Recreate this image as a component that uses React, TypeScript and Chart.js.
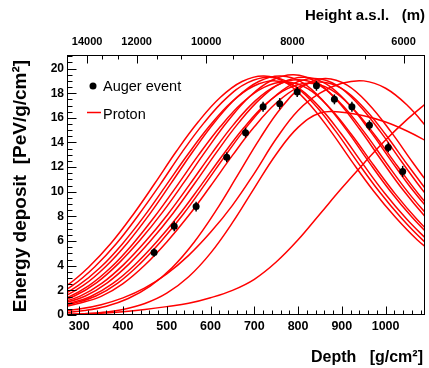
import React, { useEffect, useRef } from 'react';
import { Chart, registerables } from 'chart.js';

Chart.register(...registerables);

const FONT = "'Liberation Sans', Arial, Helvetica, sans-serif";

// Axis ticks
const depthTicks = [300, 400, 500, 600, 700, 800, 900, 1000];
const energyTicks = [0, 2, 4, 6, 8, 10, 12, 14, 16, 18, 20];
const heightLabels = ['14000', '12000', '10000', '8000', '6000'];
const heightMajorDepths = [318, 431, 590, 787, 1041];
const heightMinorDepths = [352, 389, 477, 533, 651, 719, 867, 954];

// Auger event
const augerDepth = [471, 517, 567, 637, 680, 720, 758, 798, 842, 883, 923, 963, 1006, 1039];
const augerEnergy = [5.07, 7.2, 8.8, 12.8, 14.8, 16.9, 17.15, 18.1, 18.6, 17.5, 16.9, 15.4, 13.6, 11.65];
const augerError = [0.35, 0.4, 0.4, 0.4, 0.4, 0.4, 0.45, 0.4, 0.4, 0.4, 0.4, 0.4, 0.4, 0.45];

// Proton showers: [depth, energy deposit]
const proton01 = [[222,1.4],[272,2.4],[322,3.9],[372,5.8],[422,8.1],[472,10.65],[522,13.29],[572,15.68],[622,17.65],[672,18.95],[722,19.4],[772,18.86],[822,17.27],[872,15.04],[922,12.51],[972,10.09],[1022,7.95],[1072,6.11],[1122,4.66]];
const proton02 = [[235,1.4],[285,2.4],[335,3.9],[385,5.8],[435,8.1],[485,10.6],[535,13.22],[585,15.59],[635,17.56],[685,18.86],[735,19.3],[785,18.76],[835,17.18],[885,14.96],[935,12.45],[985,10.04],[1035,7.91],[1085,6.08],[1135,4.63]];
const proton03 = [[198,0.85],[248,1.4],[298,2.4],[348,3.85],[398,5.75],[448,8.0],[498,10.5],[548,13.02],[598,15.35],[648,17.29],[698,18.56],[748,19.0],[798,18.47],[848,16.91],[898,14.73],[948,12.26],[998,9.88],[1048,7.79],[1098,5.99]];
const proton04 = [[210,0.87],[260,1.42],[310,2.42],[360,3.92],[410,5.85],[460,8.15],[510,10.7],[560,13.29],[610,15.68],[660,17.65],[710,18.95],[760,19.4],[810,18.86],[860,17.27],[910,15.04],[960,12.51],[1010,10.09],[1060,7.95],[1110,6.11]];
const proton05 = [[222,0.86],[272,1.4],[322,2.38],[372,3.85],[422,5.75],[472,7.97],[522,10.42],[572,12.95],[622,15.27],[672,17.2],[722,18.47],[772,18.9],[822,18.37],[872,16.82],[922,14.65],[972,12.19],[1022,9.83],[1072,7.75],[1122,5.95]];
const proton06 = [[190,0.59],[240,0.98],[290,1.56],[340,2.63],[390,4.19],[440,6.12],[490,8.33],[540,10.8],[590,13.36],[640,15.76],[690,17.75],[740,19.05],[790,19.5],[840,18.95],[890,17.36],[940,15.11],[990,12.58],[1040,10.14],[1090,8.0],[1140,6.14]];
const proton07 = [[202,0.57],[252,0.96],[302,1.53],[352,2.58],[402,4.11],[452,6.0],[502,8.16],[552,10.58],[602,13.08],[652,15.43],[702,17.38],[752,18.66],[802,19.1],[852,18.57],[902,17.0],[952,14.8],[1002,12.32],[1052,9.93],[1102,7.83]];
const proton08 = [[214,0.58],[264,0.97],[314,1.54],[364,2.61],[414,4.15],[464,6.06],[514,8.24],[564,10.69],[614,13.22],[664,15.59],[714,17.56],[764,18.86],[814,19.3],[864,18.76],[914,17.18],[964,14.96],[1014,12.45],[1064,10.04],[1114,7.91]];
const proton09 = [[226,0.56],[276,0.94],[326,1.5],[376,2.54],[426,4.04],[476,5.9],[526,8.03],[576,10.42],[626,12.88],[676,15.19],[726,17.11],[776,18.37],[826,18.8],[876,18.27],[926,16.73],[976,14.57],[1026,12.13],[1076,9.78],[1126,7.71]];
const proton10 = [[238,0.58],[288,0.96],[338,1.54],[388,2.59],[438,4.13],[488,6.03],[538,8.2],[588,10.64],[638,13.15],[688,15.51],[738,17.47],[788,18.76],[838,19.2],[888,18.66],[938,17.09],[988,14.88],[1038,12.38],[1088,9.98],[1138,7.87]];
const proton11 = [[200,0.34],[250,0.57],[300,0.95],[350,1.51],[400,2.55],[450,4.06],[500,5.93],[550,8.07],[600,10.47],[650,12.95],[700,15.27],[750,17.2],[800,18.47],[850,18.9],[900,18.37],[950,16.82],[1000,14.65],[1050,12.19],[1100,9.83]];
const proton12 = [[212,0.07],[262,0.17],[312,0.36],[362,0.71],[412,1.34],[462,2.34],[512,3.84],[562,5.89],[612,8.45],[662,11.35],[712,14.28],[762,16.84],[812,18.59],[862,19.2],[912,18.66],[962,17.09],[1012,14.88],[1062,12.38],[1112,9.98]];
const proton13 = [[250,0.27],[300,0.48],[350,0.84],[400,1.39],[450,2.2],[500,3.34],[550,4.84],[600,6.71],[650,8.9],[700,11.5],[750,14.3],[800,16.6],[850,18.0],[900,18.8],[950,19.0],[1000,18.4],[1050,17.0],[1100,15.0]];
const proton14 = [[250,0.03],[300,0.08],[350,0.2],[400,0.45],[450,0.93],[500,1.77],[550,3.1],[600,5.02],[650,7.49],[700,10.3],[750,13.05],[800,15.23],[850,16.39],[900,16.45],[950,16.17],[1000,15.66],[1050,14.91],[1100,13.99]];
const proton15 = [[250,0.03],[300,0.08],[350,0.15],[400,0.27],[450,0.45],[500,0.68],[550,0.95],[600,1.4],[650,2.0],[700,2.9],[750,4.3],[800,6.1],[850,8.2],[900,10.3],[950,12.3],[1000,14.2],[1050,15.9],[1100,17.4]];

const protonCurves = [proton01, proton02, proton03, proton04, proton05, proton06, proton07, proton08, proton09, proton10, proton11, proton12, proton13, proton14, proton15];

const X_MIN = 272;
const X_MAX = 1090;
const Y_MIN = 0;
const Y_MAX = 21.1;

const rootStylePlugin = {
  id: 'rootStyle',
  afterDatasetsDraw(chart: any) {
    const ctx = chart.ctx;
    const xs = chart.scales.x;
    const ys = chart.scales.y;
    ctx.save();
    ctx.strokeStyle = '#000';
    ctx.lineWidth = 1.5;
    augerDepth.forEach((d, i) => {
      const px = xs.getPixelForValue(d);
      ctx.beginPath();
      ctx.moveTo(px, ys.getPixelForValue(augerEnergy[i] - augerError[i]));
      ctx.lineTo(px, ys.getPixelForValue(augerEnergy[i] + augerError[i]));
      ctx.stroke();
    });
    ctx.restore();
  },
  afterDraw(chart: any) {
    const ctx = chart.ctx;
    const a = chart.chartArea;
    const xs = chart.scales.x;
    const ys = chart.scales.y;
    const L = Math.round(a.left) + 0.5;
    const R = Math.round(a.right) - 0.5;
    const T = Math.round(a.top) + 0.5;
    const B = Math.round(a.bottom) - 0.5;
    ctx.save();
    ctx.strokeStyle = '#000';
    ctx.lineWidth = 1;
    ctx.strokeRect(L, T, R - L, B - T);
    ctx.beginPath();
    // bottom axis ticks
    for (let v = 280; v <= X_MAX; v += 20) {
      const px = Math.round(xs.getPixelForValue(v)) + 0.5;
      const major = v % 100 === 0;
      ctx.moveTo(px, B);
      ctx.lineTo(px, B - (major ? 8 : 4));
    }
    // top axis ticks
    heightMajorDepths.forEach((v) => {
      const px = Math.round(xs.getPixelForValue(v)) + 0.5;
      ctx.moveTo(px, T);
      ctx.lineTo(px, T + 8);
    });
    heightMinorDepths.forEach((v) => {
      const px = Math.round(xs.getPixelForValue(v)) + 0.5;
      ctx.moveTo(px, T);
      ctx.lineTo(px, T + 4);
    });
    // left axis ticks
    for (let v = 0; v <= Y_MAX; v += 0.5) {
      const py = Math.round(ys.getPixelForValue(v)) + 0.5;
      const major = Math.abs(v % 2) < 1e-6;
      ctx.moveTo(L, py);
      ctx.lineTo(L + (major ? 9 : 5), py);
    }
    ctx.stroke();

    // titles
    ctx.fillStyle = '#000';
    ctx.font = `bold 15px ${FONT}`;
    ctx.textAlign = 'right';
    ctx.textBaseline = 'alphabetic';
    ctx.fillText('Height a.s.l.   (m)', 425, 20);

    ctx.font = `bold 16px ${FONT}`;
    ctx.fillText('Depth   [g/cm\u00B2]', 423, 362);

    ctx.save();
    ctx.translate(26, 186);
    ctx.rotate(-Math.PI / 2);
    ctx.textAlign = 'center';
    ctx.font = `bold 19px ${FONT}`;
    ctx.fillText('Energy deposit  [PeV/g/cm\u00B2]', 0, 0);
    ctx.restore();

    // legend
    ctx.beginPath();
    ctx.arc(93, 86, 3.5, 0, Math.PI * 2);
    ctx.fill();
    ctx.strokeStyle = '#ff0000';
    ctx.lineWidth = 1.5;
    ctx.beginPath();
    ctx.moveTo(87, 112.5);
    ctx.lineTo(101, 112.5);
    ctx.stroke();
    ctx.fillStyle = '#000';
    ctx.textAlign = 'left';
    ctx.font = `14.5px ${FONT}`;
    ctx.fillText('Auger event', 103, 91);
    ctx.fillText('Proton', 103, 119);
    ctx.restore();
  },
};

export default function App() {
  const canvasRef = useRef<HTMLCanvasElement | null>(null);

  useEffect(() => {
    const canvas = canvasRef.current;
    if (!canvas) return;

    const curveSets = protonCurves.map((curve) => ({
      type: 'line' as const,
      data: curve.map(([x, y]) => ({ x, y })),
      borderColor: '#ff0000',
      borderWidth: 1.5,
      pointRadius: 0,
      tension: 0.4,
      fill: false,
      order: 1,
      xAxisID: 'x',
      yAxisID: 'y',
    }));

    const pointSet = {
      type: 'line' as const,
      data: augerDepth.map((x, i) => ({ x, y: augerEnergy[i] })),
      showLine: false,
      pointRadius: 3.5,
      pointBackgroundColor: '#000',
      pointBorderColor: '#000',
      pointBorderWidth: 0,
      order: 0,
      xAxisID: 'x',
      yAxisID: 'y',
    };

    const tickFont = { family: FONT, size: 12.5, weight: 'bold' as const };

    const chart = new Chart(canvas, {
      type: 'line',
      data: { datasets: [pointSet as any, ...(curveSets as any[])] },
      options: {
        responsive: false,
        animation: false,
        devicePixelRatio: 1,
        events: [],
        layout: { padding: { left: 0, right: 2, top: 0, bottom: 0 } },
        plugins: { legend: { display: false }, tooltip: { enabled: false } },
        scales: {
          x: {
            type: 'linear',
            position: 'bottom',
            min: X_MIN,
            max: X_MAX,
            grid: { display: false, drawTicks: false },
            border: { display: false },
            afterBuildTicks: (scale: any) => {
              scale.ticks = depthTicks.map((v) => ({ value: v }));
            },
            afterFit: (scale: any) => {
              scale.height = 53;
            },
            ticks: {
              font: tickFont,
              color: '#000',
              padding: 4,
              maxRotation: 0,
              autoSkip: false,
              callback: (v: any) => String(v),
            },
          },
          x2: {
            type: 'linear',
            position: 'top',
            min: X_MIN,
            max: X_MAX,
            grid: { display: false, drawTicks: false },
            border: { display: false },
            afterBuildTicks: (scale: any) => {
              scale.ticks = heightMajorDepths.map((v) => ({ value: v }));
            },
            afterFit: (scale: any) => {
              scale.height = 55;
            },
            ticks: {
              font: { family: FONT, size: 11, weight: 'bold' as const },
              color: '#000',
              padding: 6,
              maxRotation: 0,
              autoSkip: false,
              callback: (_v: any, i: number) => heightLabels[i],
            },
          },
          y: {
            type: 'linear',
            position: 'left',
            min: Y_MIN,
            max: Y_MAX,
            grid: { display: false, drawTicks: false },
            border: { display: false },
            afterBuildTicks: (scale: any) => {
              scale.ticks = energyTicks.map((v) => ({ value: v }));
            },
            afterFit: (scale: any) => {
              scale.width = 67;
            },
            ticks: {
              font: { family: FONT, size: 12, weight: 'bold' as const },
              color: '#000',
              padding: 3,
              autoSkip: false,
              callback: (v: any) => String(v),
            },
          },
        },
      },
      plugins: [rootStylePlugin],
    });

    return () => {
      chart.destroy();
    };
  }, []);

  return (
    <div style={{ position: 'absolute', left: 0, top: 0, width: 429, height: 368, background: '#fff' }}>
      <canvas ref={canvasRef} width={429} height={368} style={{ width: 429, height: 368, display: 'block' }} />
    </div>
  );
}
